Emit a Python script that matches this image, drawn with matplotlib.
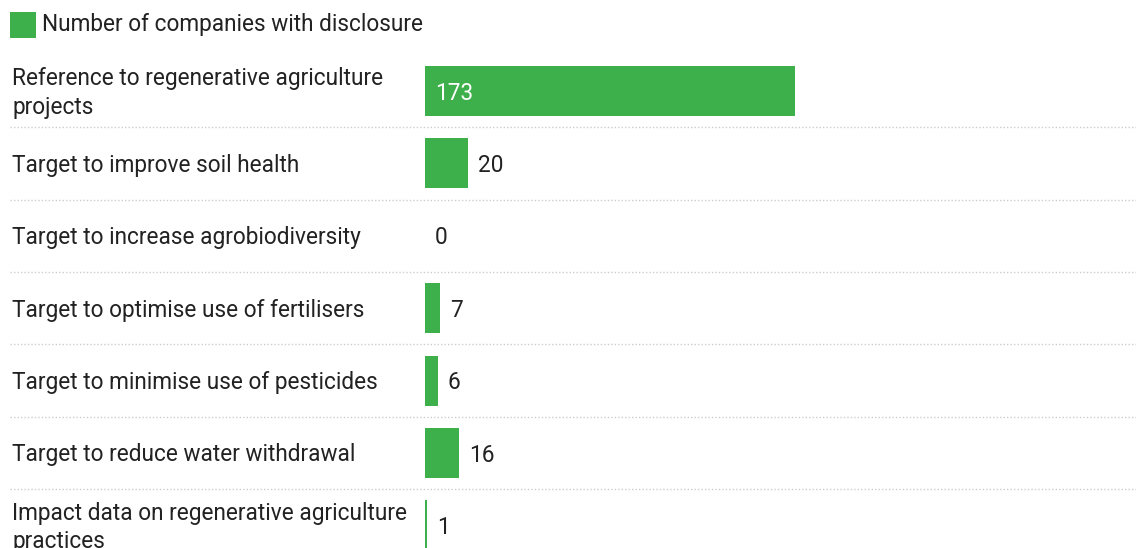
import matplotlib.pyplot as plt
from matplotlib.patches import Rectangle
from matplotlib.transforms import blended_transform_factory

plt.rcParams["font.family"] = ["Roboto", "DejaVu Sans"]

CATEGORIES = [
    "Reference to regenerative agriculture\nprojects",
    "Target to improve soil health",
    "Target to increase agrobiodiversity",
    "Target to optimise use of fertilisers",
    "Target to minimise use of pesticides",
    "Target to reduce water withdrawal",
    "Impact data on regenerative agriculture\npractices",
]
COMPANIES = [173, 20, 0, 7, 6, 16, 1]
SERIES_NAME = "Number of companies with disclosure"

GREEN = "#3daf4b"
TEXT = "#222222"
GRID = "#cccccc"

W, H = 1136, 548
fig = plt.figure(figsize=(W / 100, H / 100), dpi=100)

# bar area: starts at x=425px, ~2.14 px per company, rows 72.4 px apart
left_px, px_per_unit = 425, 370 / 173
row_px, first_row_px = 72.4, 91
ax = fig.add_axes([left_px / W, 0, 1 - left_px / W, 1])
ax.set_xlim(0, (W - left_px) / px_per_unit)
ax.set_ylim((H - first_row_px) / row_px, -first_row_px / row_px)
ax.axis("off")

ypos = list(range(len(CATEGORIES)))
ax.barh(ypos, COMPANIES, height=0.69, color=GREEN, linewidth=0)

fs = 16.3
dy = -2  # nudge text down a touch so it sits on the bar centre
for y, v in zip(ypos, COMPANIES):
    if v > 100:
        ax.annotate(str(v), (0, y), xytext=(10, dy), textcoords="offset pixels",
                    va="center", ha="left", color="white", fontsize=fs)
    else:
        ax.annotate(str(v), (v, y), xytext=(10, dy), textcoords="offset pixels",
                    va="center", ha="left", color=TEXT, fontsize=fs)

# category labels on the left, in figure x / data y
lab_tr = blended_transform_factory(fig.transFigure, ax.transData)
for y, name in zip(ypos, CATEGORIES):
    ax.annotate(name, (12 / W, y), xycoords=lab_tr, xytext=(0, dy),
                textcoords="offset pixels", va="center", ha="left",
                color=TEXT, fontsize=fs, linespacing=1.28)

# dotted separators between rows
x0 = (10 - left_px) / (W - left_px)
for y in ypos[:-1]:
    ax.axhline(y + 0.5, xmin=x0, xmax=1, color=GRID, linestyle=(0, (1, 1.5)),
               linewidth=1, clip_on=False)

# legend swatch and label
fig.add_artist(Rectangle((10 / W, 1 - 38 / H), 26 / W, 26 / H,
                         transform=fig.transFigure, color=GREEN, linewidth=0))
fig.text(42 / W, 1 - 25 / H, SERIES_NAME, va="center", ha="left",
         color=TEXT, fontsize=fs)

fig.savefig("out.png", dpi=100)
